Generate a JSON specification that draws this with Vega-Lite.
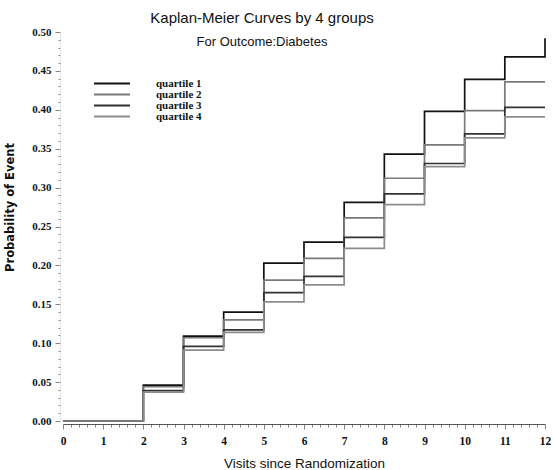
{
  "$schema": "https://vega.github.io/schema/vega-lite/v6.json",
  "width": 482,
  "height": 389,
  "autosize": {"type": "none"},
  "padding": {"left": 63, "top": 32, "right": 8, "bottom": 49},
  "background": "white",
  "title": {
    "text": "Kaplan-Meier Curves by 4 groups",
    "subtitle": "For Outcome:Diabetes",
    "font": "Liberation Sans",
    "fontSize": 15,
    "fontWeight": "normal",
    "subtitleFont": "Liberation Sans",
    "subtitleFontSize": 13,
    "subtitlePadding": 10,
    "color": "#111",
    "subtitleColor": "#111",
    "anchor": "middle",
    "dx": -42,
    "offset": -23
  },
  "data": {
    "values": [
      {"t": 0, "p": 0, "g": "quartile 1"},
      {"t": 2, "p": 0.046, "g": "quartile 1"},
      {"t": 3, "p": 0.109, "g": "quartile 1"},
      {"t": 4, "p": 0.140, "g": "quartile 1"},
      {"t": 5, "p": 0.203, "g": "quartile 1"},
      {"t": 6, "p": 0.230, "g": "quartile 1"},
      {"t": 7, "p": 0.281, "g": "quartile 1"},
      {"t": 8, "p": 0.343, "g": "quartile 1"},
      {"t": 9, "p": 0.398, "g": "quartile 1"},
      {"t": 10, "p": 0.439, "g": "quartile 1"},
      {"t": 11, "p": 0.468, "g": "quartile 1"},
      {"t": 12, "p": 0.492, "g": "quartile 1"},
      {"t": 0, "p": 0, "g": "quartile 2"},
      {"t": 2, "p": 0.044, "g": "quartile 2"},
      {"t": 3, "p": 0.107, "g": "quartile 2"},
      {"t": 4, "p": 0.130, "g": "quartile 2"},
      {"t": 5, "p": 0.181, "g": "quartile 2"},
      {"t": 6, "p": 0.209, "g": "quartile 2"},
      {"t": 7, "p": 0.261, "g": "quartile 2"},
      {"t": 8, "p": 0.312, "g": "quartile 2"},
      {"t": 9, "p": 0.355, "g": "quartile 2"},
      {"t": 10, "p": 0.399, "g": "quartile 2"},
      {"t": 11, "p": 0.436, "g": "quartile 2"},
      {"t": 12, "p": 0.436, "g": "quartile 2"},
      {"t": 0, "p": 0, "g": "quartile 3"},
      {"t": 2, "p": 0.039, "g": "quartile 3"},
      {"t": 3, "p": 0.096, "g": "quartile 3"},
      {"t": 4, "p": 0.117, "g": "quartile 3"},
      {"t": 5, "p": 0.165, "g": "quartile 3"},
      {"t": 6, "p": 0.186, "g": "quartile 3"},
      {"t": 7, "p": 0.236, "g": "quartile 3"},
      {"t": 8, "p": 0.292, "g": "quartile 3"},
      {"t": 9, "p": 0.331, "g": "quartile 3"},
      {"t": 10, "p": 0.369, "g": "quartile 3"},
      {"t": 11, "p": 0.403, "g": "quartile 3"},
      {"t": 12, "p": 0.403, "g": "quartile 3"},
      {"t": 0, "p": 0, "g": "quartile 4"},
      {"t": 2, "p": 0.037, "g": "quartile 4"},
      {"t": 3, "p": 0.091, "g": "quartile 4"},
      {"t": 4, "p": 0.114, "g": "quartile 4"},
      {"t": 5, "p": 0.153, "g": "quartile 4"},
      {"t": 6, "p": 0.175, "g": "quartile 4"},
      {"t": 7, "p": 0.222, "g": "quartile 4"},
      {"t": 8, "p": 0.278, "g": "quartile 4"},
      {"t": 9, "p": 0.327, "g": "quartile 4"},
      {"t": 10, "p": 0.364, "g": "quartile 4"},
      {"t": 11, "p": 0.391, "g": "quartile 4"},
      {"t": 12, "p": 0.391, "g": "quartile 4"}
    ]
  },
  "mark": {"type": "line", "interpolate": "step-after", "strokeWidth": 1.7, "clip": false},
  "encoding": {
    "x": {
      "field": "t",
      "type": "quantitative",
      "scale": {"domain": [0, 12], "nice": false, "zero": false},
      "axis": {
        "title": "Visits since Randomization",
        "titleFont": "Liberation Sans",
        "titleFontSize": 13.5,
        "titleFontWeight": "normal",
        "titleColor": "#111",
        "titlePadding": 10,
        "offset": 3,
        "grid": false,
        "values": [0,0.2,0.4,0.6,0.8,1,1.2,1.4,1.6,1.8,2,2.2,2.4,2.6,2.8,3,3.2,3.4,3.6,3.8,4,4.2,4.4,4.6,4.8,5,5.2,5.4,5.6,5.8,6,6.2,6.4,6.6,6.8,7,7.2,7.4,7.6,7.8,8,8.2,8.4,8.6,8.8,9,9.2,9.4,9.6,9.8,10,10.2,10.4,10.6,10.8,11,11.2,11.4,11.6,11.8,12],
        "labelExpr": "datum.value % 1 === 0 ? format(datum.value, 'd') : ''",
        "labelFont": "Liberation Serif",
        "labelFontWeight": "bold",
        "labelFontSize": 11.5,
        "labelColor": "#111",
        "labelPadding": 6,
        "labelFlush": false,
        "labelOverlap": false,
        "domainColor": "#555",
        "domainWidth": 1,
        "tickColor": "#666",
        "tickWidth": 0.8,
        "tickSize": {"condition": {"test": "datum.value % 1 === 0", "value": 5}, "value": 3}
      }
    },
    "y": {
      "field": "p",
      "type": "quantitative",
      "scale": {"domain": [0, 0.5], "nice": false},
      "axis": {
        "title": "Probability of Event",
        "titleFont": "DejaVu Sans",
        "titleFontSize": 11.5,
        "titleFontWeight": "bold",
        "titleColor": "#111",
        "titleX": -45,
        "titleY": 175,
        "offset": 3,
        "grid": false,
        "values": [0,0.01,0.02,0.03,0.04,0.05,0.06,0.07,0.08,0.09,0.1,0.11,0.12,0.13,0.14,0.15,0.16,0.17,0.18,0.19,0.2,0.21,0.22,0.23,0.24,0.25,0.26,0.27,0.28,0.29,0.3,0.31,0.32,0.33,0.34,0.35,0.36,0.37,0.38,0.39,0.4,0.41,0.42,0.43,0.44,0.45,0.46,0.47,0.48,0.49,0.5],
        "labelExpr": "abs(round(datum.value * 100) % 5) === 0 ? format(datum.value, '.2f') : ''",
        "labelFont": "Liberation Serif",
        "labelFontWeight": "bold",
        "labelFontSize": 11,
        "labelColor": "#111",
        "labelPadding": 4,
        "labelOverlap": false,
        "labelFlush": false,
        "domainColor": "#ccc",
        "domainWidth": 0.5,
        "tickColor": "#666",
        "tickWidth": 0.8,
        "tickSize": {"condition": {"test": "abs(round(datum.value * 100) % 5) === 0", "value": 5}, "value": 2}
      }
    },
    "color": {
      "field": "g",
      "type": "nominal",
      "scale": {"domain": ["quartile 1", "quartile 2", "quartile 3", "quartile 4"], "range": ["#111111", "#7a7a7a", "#333333", "#8c8c8c"]},
      "legend": {
        "title": null,
        "orient": "none",
        "legendX": 43.5,
        "legendY": 46,
        "padding": 0,
        "symbolType": "M-4,0H4",
        "symbolSize": 81,
        "symbolStrokeWidth": 2,
        "symbolFillColor": "transparent",
        "rowPadding": -6,
        "labelOffset": 38.5,
        "labelFont": "Liberation Serif",
        "labelFontWeight": "bold",
        "labelFontSize": 11,
        "labelColor": "#111"
      }
    }
  },
  "config": {"view": {"stroke": null}}
}
